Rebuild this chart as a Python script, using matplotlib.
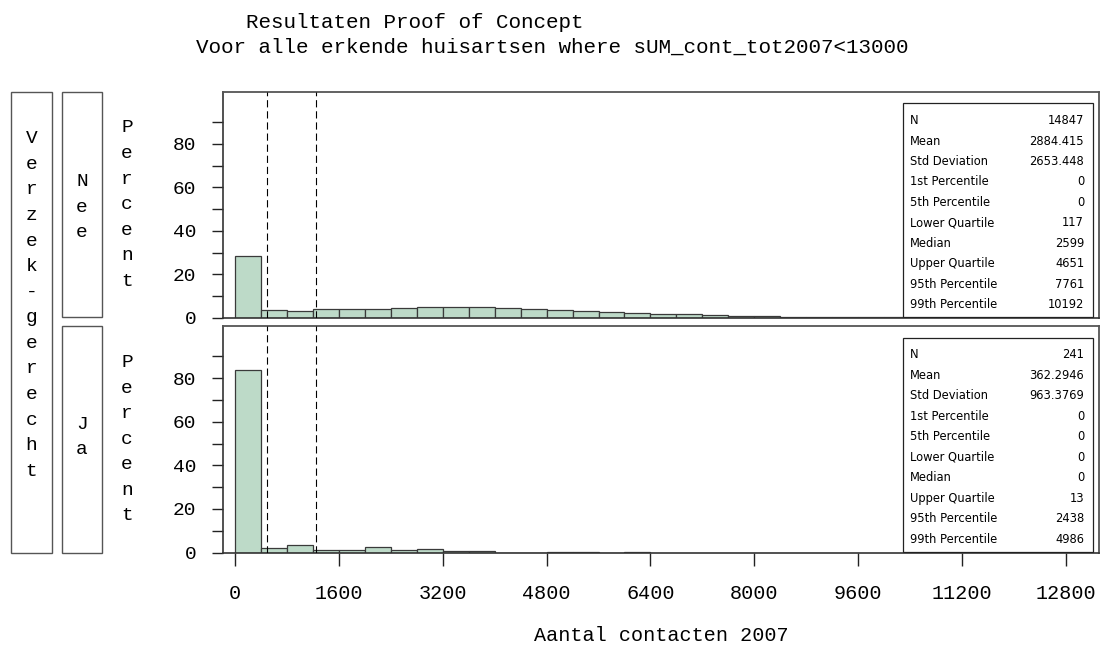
import numpy as np
import matplotlib
matplotlib.use("Agg")
import matplotlib.pyplot as plt
from matplotlib.patches import Rectangle

# ---- data -------------------------------------------------------------
bin_width = 400
# percent of GPs per 400-contact bin (bins start at 0)
nee_pct = [28.4, 3.7, 3.0, 4.0, 4.0, 4.0, 4.6, 4.9, 4.9, 4.9, 4.5, 4.0,
           3.7, 3.2, 2.8, 2.3, 1.7, 1.6, 1.4, 0.8, 0.8, 0.5, 0.5, 0.5,
           0.3, 0.3, 0.3, 0.2, 0.2, 0.1, 0.1, 0.1, 0.05]
ja_pct = [83.8, 2.1, 3.3, 1.2, 1.2, 2.5, 1.2, 1.7, 0.8, 0.8, 0.0, 0.0,
          0.4, 0.4, 0.0, 0.4]

ref_lines = [500, 1250]
x_ticks = [0, 1600, 3200, 4800, 6400, 8000, 9600, 11200, 12800]
y_ticks = [0, 20, 40, 60, 80]
y_minor = [10, 30, 50, 70, 90]

groups = ["Nee", "Ja"]
group_title = "Verzek-gerecht"

stat_names = ["N", "Mean", "Std Deviation", "1st Percentile", "5th Percentile",
              "Lower Quartile", "Median", "Upper Quartile", "95th Percentile",
              "99th Percentile"]
nee_stats = ["14847", "2884.415", "2653.448", "0", "0", "117", "2599",
             "4651", "7761", "10192"]
ja_stats = ["241", "362.2946", "963.3769", "0", "0", "0", "0", "13",
            "2438", "4986"]

title1 = "Resultaten Proof of Concept"
title2 = "Voor alle erkende huisartsen where sUM_cont_tot2007<13000"
xlabel = "Aantal contacten 2007"
ylabel = "Percent"

# ---- style ------------------------------------------------------------
MONO = "Liberation Mono"
BAR_FILL = "#bddac8"
BAR_EDGE = "#3a3a3a"
FRAME = "#555555"
STACK_SPACING = 1.66

W, H = 1102, 645
fig = plt.figure(figsize=(W / 100, H / 100), dpi=100)
fig.patch.set_facecolor("white")


def fx(px):
    return px / W


def fy(py):
    return 1 - py / H


ax_left, ax_right = 223, 1099
panels = [(91.7, 317.7), (326.0, 552.5)]
axes = []
for top, bot in panels:
    ax = fig.add_axes([fx(ax_left), fy(bot), fx(ax_right - ax_left),
                       (bot - top) / H])
    axes.append(ax)

series = [nee_pct, ja_pct]
stats = [nee_stats, ja_stats]

for i, ax in enumerate(axes):
    pct = np.asarray(series[i])
    lefts = np.arange(len(pct)) * bin_width
    ax.bar(lefts, pct, width=bin_width, align="edge", color=BAR_FILL,
           edgecolor=BAR_EDGE, linewidth=0.9, zorder=2)
    for v in ref_lines:
        ax.axvline(v, color="black", linewidth=0.8,
                   linestyle=(0, (6.5, 3.5)), zorder=3)
    ax.set_xlim(-185, 13310)
    ax.set_ylim(0, 104)
    ax.set_yticks(y_ticks)
    ax.set_yticks(y_minor, minor=True)
    ax.set_yticklabels([str(t) for t in y_ticks], fontfamily=MONO)
    ax.tick_params(axis="y", which="both", direction="out", length=8,
                   width=1.0, color="#222222", pad=11, labelsize=14)
    for side in ["top", "right"]:
        ax.spines[side].set_color(FRAME)
        ax.spines[side].set_linewidth(1.3)
    for side in ["left", "bottom"]:
        ax.spines[side].set_color("#333333")
        ax.spines[side].set_linewidth(1.2)

    # summary statistics inset
    ax.add_patch(Rectangle((0.776, 0.003), 0.217, 0.945,
                           transform=ax.transAxes, facecolor="white",
                           edgecolor="#222222", linewidth=0.9, zorder=4))
    for r, (name, val) in enumerate(zip(stat_names, stats[i])):
        yy = 0.872 - r * 0.0905
        ax.text(0.784, yy, name, transform=ax.transAxes, ha="left",
                va="center", fontsize=8.3, family="DejaVu Sans", zorder=5)
        ax.text(0.983, yy, val, transform=ax.transAxes, ha="right",
                va="center", fontsize=8.3, family="DejaVu Sans", zorder=5)

# only the lower panel carries the x axis
axes[0].tick_params(axis="x", which="both", bottom=False, labelbottom=False)
axes[1].set_xticks(x_ticks)
axes[1].set_xticklabels([str(t) for t in x_ticks], fontfamily=MONO)
axes[1].tick_params(axis="x", direction="out", length=9, width=1.0,
                    color="#222222", pad=14, labelsize=14.5)
axes[1].set_xlabel(xlabel, fontsize=14.5, fontfamily=MONO, labelpad=16)

# stacked vertical "Percent" labels
for top, bot in panels:
    fig.text(fx(127), fy((top + bot) / 2), "\n".join(ylabel), ha="center",
             va="center", ma="center", fontsize=14, family=MONO,
             linespacing=STACK_SPACING)

# group label boxes
def frame_box(x0, y0, x1, y1):
    fig.add_artist(Rectangle((fx(x0), fy(y1)), fx(x1 - x0), (y1 - y0) / H,
                             transform=fig.transFigure, facecolor="none",
                             edgecolor=FRAME, linewidth=1.0))

frame_box(11, 92, 52, 553)
frame_box(62, 92, 102, 317)
frame_box(62, 326, 102, 553)

fig.text(fx(31.5), fy(305), "\n".join(group_title), ha="center", va="center",
         ma="center", fontsize=14, family=MONO, linespacing=STACK_SPACING)
fig.text(fx(82), fy(207), "\n".join(groups[0]), ha="center", va="center",
         ma="center", fontsize=14, family=MONO, linespacing=STACK_SPACING)
fig.text(fx(82), fy(437), "\n".join(groups[1]), ha="center", va="center",
         ma="center", fontsize=14, family=MONO, linespacing=STACK_SPACING)

# titles
fig.text(fx(415), fy(22), title1, ha="center", va="center", fontsize=15,
         family=MONO)
fig.text(fx(552), fy(47), title2, ha="center", va="center", fontsize=15,
         family=MONO)

fig.savefig("out.png", dpi=100, facecolor="white")
